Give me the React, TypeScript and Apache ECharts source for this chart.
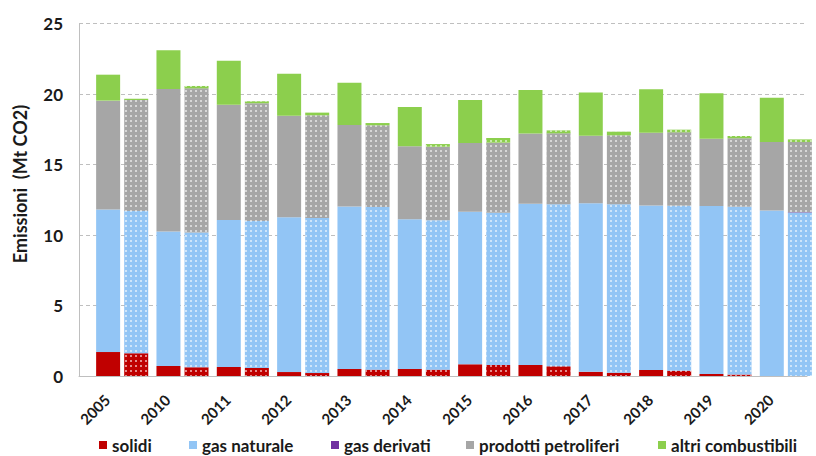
import React, { useEffect, useRef } from "react";
import * as echarts from "echarts";

const years = ["2005", "2010", "2011", "2012", "2013", "2014", "2015", "2016", "2017", "2018", "2019", "2020"];
const seriesNames = ["solidi", "gas naturale", "gas derivati", "prodotti petroliferi", "altri combustibili"];
const colors = ["#C00000", "#92C5F5", "#7030A0", "#A6A6A6", "#8CCF4D"];

// solid bars
const solidiA = [1.70, 0.71, 0.64, 0.28, 0.50, 0.50, 0.83, 0.78, 0.30, 0.43, 0.14, 0.00];
const gasNatA = [10.10, 9.53, 10.42, 10.98, 11.53, 10.61, 10.82, 11.44, 11.95, 11.67, 11.92, 11.73];
const gasDerA = [0, 0, 0, 0, 0, 0, 0, 0, 0, 0, 0, 0];
const petrolA = [7.73, 10.11, 8.18, 7.20, 5.77, 5.18, 4.87, 4.97, 4.79, 5.16, 4.77, 4.87];
const altriA = [1.84, 2.75, 3.12, 2.98, 3.00, 2.79, 3.05, 3.09, 3.06, 3.07, 3.22, 3.14];

// dotted bars
const solidiB = [1.61, 0.62, 0.57, 0.21, 0.45, 0.45, 0.78, 0.69, 0.23, 0.38, 0.10, 0.00];
const gasNatB = [10.09, 9.55, 10.42, 10.99, 11.54, 10.59, 10.80, 11.49, 11.95, 11.70, 11.90, 11.59];
const gasDerB = [0, 0, 0, 0, 0, 0, 0, 0, 0, 0, 0, 0.03];
const petrolB = [7.87, 10.23, 8.36, 7.29, 5.79, 5.22, 4.97, 5.03, 4.89, 5.20, 4.86, 4.97];
const altriB = [0.10, 0.17, 0.13, 0.19, 0.16, 0.19, 0.33, 0.21, 0.26, 0.19, 0.16, 0.19];

const yTicks = [0, 5, 10, 15, 20, 25];
const yTitle = "Emissioni  (Mt CO2)";

const FONT = "Lato, 'Open Sans', sans-serif";

export default function App() {
  const ref = useRef<HTMLDivElement>(null);

  useEffect(() => {
    if (!ref.current) return;
    const chart = echarts.init(ref.current, null, { renderer: "svg" });

    const labels24: string[] = [];
    years.forEach((y) => {
      labels24.push(y);
      labels24.push("");
    });

    const dataA = [solidiA, gasNatA, gasDerA, petrolA, altriA];
    const dataB = [solidiB, gasNatB, gasDerB, petrolB, altriB];

    const decal = {
      symbol: "rect",
      symbolSize: 1,
      color: "rgba(255,255,255,0.55)",
      dashArrayX: [1.5, 2.5],
      dashArrayY: [1.5, 3],
    };

    const series: any[] = [];
    seriesNames.forEach((name, i) => {
      series.push({
        name,
        type: "bar",
        stack: "A",
        xAxisIndex: 1,
        yAxisIndex: 1,
        barWidth: 24,
        barGap: "17%",
        itemStyle: { color: colors[i] },
        data: dataA[i],
      });
    });
    seriesNames.forEach((name, i) => {
      series.push({
        name,
        type: "bar",
        stack: "B",
        xAxisIndex: 1,
        yAxisIndex: 1,
        barWidth: 24,
        barGap: "17%",
        itemStyle: { color: colors[i], decal },
        data: dataB[i],
      });
    });

    const legendLefts = [99, 189, 331, 466, 658];
    const legends = seriesNames.map((name, i) => ({
      data: [name],
      left: legendLefts[i],
      top: 436,
      padding: 0,
      itemWidth: 8,
      itemHeight: 8,
      icon: "rect",
      selectedMode: false,
      textStyle: {
        fontFamily: FONT,
        fontWeight: "bold",
        fontSize: 17,
        lineHeight: 18,
        color: "#1a1a1a",
      },
    }));

    chart.setOption({
      animation: false,
      backgroundColor: "#ffffff",
      grid: [
        { left: 79, right: 9, top: 23.5, height: 352.5 },
        { left: 92, width: 732, top: 23.5, height: 352.5 },
      ],
      xAxis: [
        {
          gridIndex: 0,
          type: "value",
          min: 0,
          max: 1,
          axisLine: { show: true, lineStyle: { color: "#BFBFBF", width: 1 } },
          axisTick: { show: false },
          axisLabel: { show: false },
          splitLine: { show: false },
        },
        {
          gridIndex: 1,
          type: "category",
          data: years,
          show: false,
        },
        {
          gridIndex: 1,
          type: "category",
          position: "bottom",
          data: labels24,
          axisLine: { show: false },
          axisTick: { show: false },
          axisLabel: {
            interval: 0,
            rotate: 45,
            margin: 21,
            fontFamily: FONT,
            fontWeight: "bold",
            fontSize: 15,
            color: "#1a1a1a",
          },
          splitLine: { show: false },
        },
      ],
      yAxis: [
        {
          gridIndex: 0,
          type: "value",
          min: yTicks[0],
          max: yTicks[yTicks.length - 1],
          interval: 5,
          axisLine: { show: true, lineStyle: { color: "#BFBFBF", width: 1 } },
          axisTick: { show: false },
          axisLabel: {
            margin: 16,
            fontFamily: FONT,
            fontWeight: "bold",
            fontSize: 17,
            color: "#1a1a1a",
          },
          splitLine: { show: true, lineStyle: { color: "#BFBFBF", type: [4, 3], width: 1 } },
        },
        {
          gridIndex: 1,
          type: "value",
          min: yTicks[0],
          max: yTicks[yTicks.length - 1],
          show: false,
          splitLine: { show: false },
        },
      ],
      legend: legends,
      graphic: [
        {
          type: "text",
          x: 20,
          y: 184,
          rotation: Math.PI / 2,
          style: {
            text: yTitle,
            align: "center",
            verticalAlign: "middle",
            fontFamily: FONT,
            fontWeight: "bold",
            fontSize: 18,
            fill: "#1a1a1a",
          },
        },
      ],
      series,
    });

    return () => chart.dispose();
  }, []);

  return (
    <div
      ref={ref}
      style={{ position: "fixed", left: 0, top: 0, width: 816, height: 456 }}
    />
  );
}
